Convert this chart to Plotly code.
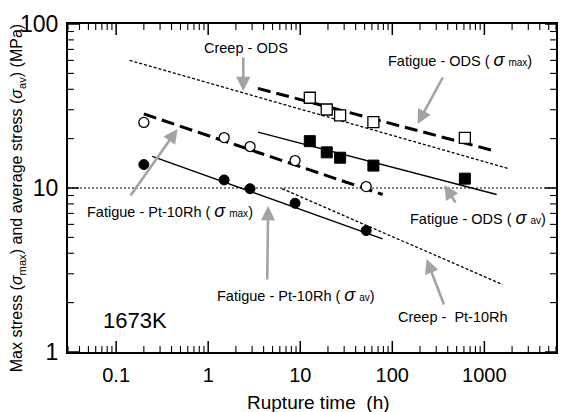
import math
import plotly.graph_objects as go

# ---------------- data ----------------
# Fatigue Pt-10Rh (open = sigma_max, filled = sigma_av)
pt_time = [0.20, 1.49, 2.85, 8.78, 52]
pt_smax = [25.1, 20.3, 17.9, 14.7, 10.2]
pt_sav = [13.9, 11.2, 9.9, 8.07, 5.5]

# Fatigue ODS (open = sigma_max, filled = sigma_av)
ods_time = [12.7, 19.4, 27.1, 62.3, 614]
ods_smax = [35.5, 30.1, 27.7, 25.2, 20.2]
ods_sav = [19.3, 16.5, 15.3, 13.7, 11.4]

# fitted / reference lines (end points)
creep_ods_t = [0.14, 1860]
creep_ods_s = [60, 13.1]
fat_ods_max_t = [3.47, 1360]
fat_ods_max_s = [40.5, 16.7]
fat_ods_av_t = [3.47, 1360]
fat_ods_av_s = [21.9, 9.13]
fat_pt_max_t = [0.20, 78.5]
fat_pt_max_s = [28.3, 9.13]
fat_pt_av_t = [0.247, 78.5]
fat_pt_av_s = [15.6, 4.9]
creep_pt_t = [6.35, 1574]
creep_pt_s = [9.9, 2.58]

ref_stress = 10  # horizontal dotted reference line

x_major = [0.1, 1, 10, 100, 1000]
x_ticktext = ["0.1", "1", "10", "100", "1000"]
y_major = [1, 10, 100]
y_ticktext = ["1", "10", "100"]
x_range = [0.03, 6000]
y_range = [1, 100]

x_minor = [m * 10.0 ** e for e in range(-2, 4) for m in range(2, 10)
           if x_range[0] <= m * 10.0 ** e <= x_range[1]]
y_minor = [m * 10.0 ** e for e in range(0, 2) for m in range(2, 10)]

# ---------------- figure ----------------
W, H = 562, 412
ML, MR, MT, MB = 68, 4, 24, 60
PW = W - ML - MR
PH = H - MT - MB

fig = go.Figure()

line_specs = [
    (creep_ods_t, creep_ods_s, dict(color="black", width=1.3, dash="3px,2px")),
    (fat_ods_max_t, fat_ods_max_s, dict(color="black", width=3, dash="13px,6px")),
    (fat_ods_av_t, fat_ods_av_s, dict(color="black", width=1.4)),
    (fat_pt_max_t, fat_pt_max_s, dict(color="black", width=3, dash="13px,6px")),
    (fat_pt_av_t, fat_pt_av_s, dict(color="black", width=1.4)),
    (creep_pt_t, creep_pt_s, dict(color="black", width=1.3, dash="3px,2px")),
]
for t, s, ln in line_specs:
    fig.add_trace(go.Scatter(x=t, y=s, mode="lines", line=ln, showlegend=False, hoverinfo="skip"))

mk_open_c = dict(symbol="circle", size=10, color="white", line=dict(color="black", width=1.3))
mk_fill_c = dict(symbol="circle", size=10, color="black", line=dict(color="black", width=1))
mk_open_s = dict(symbol="square", size=11, color="white", line=dict(color="black", width=1.3))
mk_fill_s = dict(symbol="square", size=11, color="black", line=dict(color="black", width=1))

fig.add_trace(go.Scatter(x=pt_time, y=pt_smax, mode="markers", marker=mk_open_c, showlegend=False))
fig.add_trace(go.Scatter(x=pt_time, y=pt_sav, mode="markers", marker=mk_fill_c, showlegend=False))
fig.add_trace(go.Scatter(x=ods_time, y=ods_smax, mode="markers", marker=mk_open_s, showlegend=False))
fig.add_trace(go.Scatter(x=ods_time, y=ods_sav, mode="markers", marker=mk_fill_s, showlegend=False))

# horizontal reference line at 10 MPa
fig.add_shape(type="line", xref="paper", yref="y", x0=0, x1=1, y0=ref_stress, y1=ref_stress,
              line=dict(color="black", width=1.2, dash="2px,2px"), layer="below")

# inside tick marks on all four sides (derived from tick value lists)
MAJ_LEN, MIN_LEN = 11, 6
for vals, ln, w in ((x_major, MAJ_LEN, 1.5), (x_minor, MIN_LEN, 1.1)):
    for v in vals:
        for y0, y1 in ((0, ln / PH), (1, 1 - ln / PH)):
            fig.add_shape(type="line", xref="x", yref="paper", x0=v, x1=v, y0=y0, y1=y1,
                          line=dict(color="black", width=w))
for vals, ln, w in ((y_major, MAJ_LEN, 1.5), (y_minor, MIN_LEN, 1.1)):
    for v in vals:
        for x0, x1 in ((0, ln / PW), (1, 1 - ln / PW)):
            fig.add_shape(type="line", xref="paper", yref="y", x0=x0, x1=x1, y0=v, y1=v,
                          line=dict(color="black", width=w))

xr = [math.log10(x_range[0]), math.log10(x_range[1])]
yr = [math.log10(y_range[0]), math.log10(y_range[1])]

axis_common = dict(type="log", showline=True, linecolor="black", linewidth=2, mirror=True,
                   ticks="", tickmode="array", showgrid=False, zeroline=False)

fig.update_layout(
    xaxis=dict(range=xr, tickvals=x_major, ticktext=x_ticktext, ticklabelstandoff=4,
               tickfont=dict(family="Liberation Sans, Arial", size=20, color="black"), **axis_common),
    yaxis=dict(range=yr, tickvals=y_major, ticktext=y_ticktext, ticklabelstandoff=3,
               tickfont=dict(family="Liberation Sans, Arial", size=23, color="black"), **axis_common),
)


def px(xp):
    return (xp - ML) / PW


def py(yp):
    return (H - MB - yp) / PH


FONT = dict(family="Liberation Sans, Arial", size=14.5, color="black")
SIG = "<i><span style='font-size:18px'>σ</span></i>"

labels = [
    ("Creep - ODS", 247, 48),
    ("Fatigue - ODS ( " + SIG + " <span style='font-size:10px'>max</span>)", 462, 60),
    ("Fatigue - Pt-10Rh ( " + SIG + " <span style='font-size:10px'>max</span>)", 170, 211),
    ("Fatigue - Pt-10Rh ( " + SIG + " <span style='font-size:10px'>av</span>)", 297, 295),
    ("Fatigue - ODS ( " + SIG + " <span style='font-size:10px'>av</span>)", 480, 218),
    ("Creep -  Pt-10Rh", 455, 317),
]
for txt, xx, yy in labels:
    fig.add_annotation(text=txt, xref="paper", yref="paper", x=px(xx), y=py(yy),
                       xanchor="center", yanchor="middle", showarrow=False, font=FONT)

fig.add_annotation(text="1673K", xref="paper", yref="paper", x=px(135), y=py(320),
                   xanchor="center", yanchor="middle", showarrow=False,
                   font=dict(family="Liberation Sans, Arial", size=22, color="black"))

# gray arrows (tail -> tip, pixel coordinates)
arrows = [
    ((244, 56), (244, 91)),
    ((445, 76), (419, 124)),
    ((130, 197), (178, 129)),
    ((268, 281), (269, 206)),
    ((458, 204), (446, 185)),
    ((446, 306), (428, 259)),
]
for (tx, ty), (hx, hy) in arrows:
    fig.add_annotation(x=px(hx), y=py(hy), xref="paper", yref="paper",
                       ax=tx - hx, ay=ty - hy, axref="pixel", ayref="pixel",
                       text="", showarrow=True, arrowhead=2, arrowsize=1.1,
                       arrowwidth=2.6, arrowcolor="#a3a3a3")

# axis titles as annotations
fig.add_annotation(text="Rupture time  (h)", xref="paper", yref="paper",
                   x=px(320), y=py(402), xanchor="center", yanchor="middle", showarrow=False,
                   font=dict(family="Liberation Sans, Arial", size=19, color="black"))
fig.add_annotation(
    text="Max stress (<i>σ</i><sub>max</sub>) and average stress (<i>σ</i><sub>av</sub>) (MPa)",
    xref="paper", yref="paper", x=px(17), y=py(198), xanchor="center", yanchor="middle",
    textangle=-90, showarrow=False,
    font=dict(family="Liberation Sans, Arial", size=16, color="black"))

fig.update_layout(
    width=W, height=H, margin=dict(l=ML, r=MR, t=MT, b=MB),
    paper_bgcolor="white", plot_bgcolor="white", showlegend=False,
)

fig.write_html("out.html")
